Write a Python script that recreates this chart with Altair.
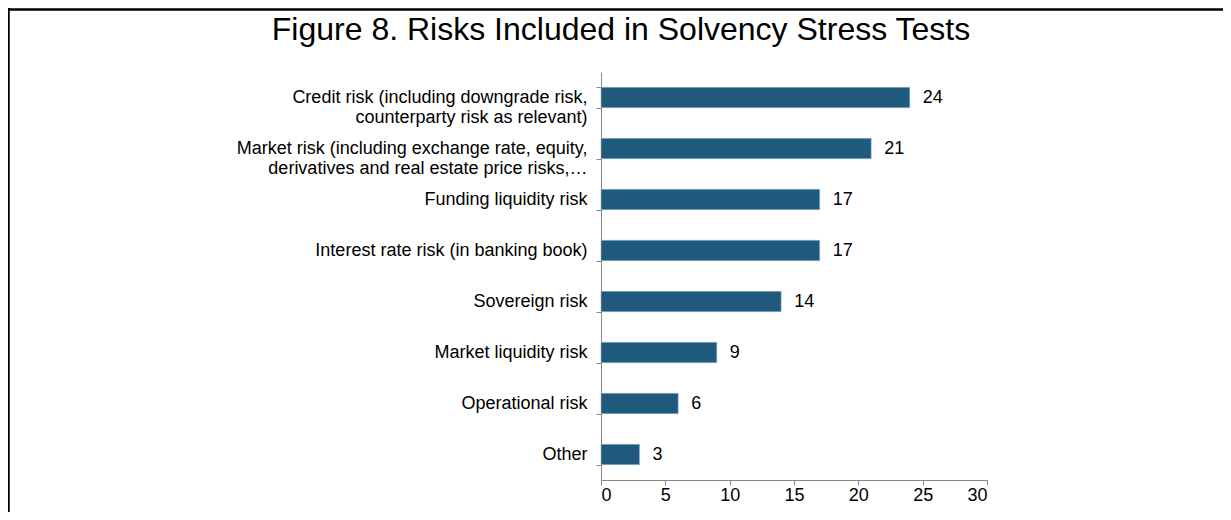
import altair as alt
import pandas as pd

NB = "\u00a0"

categories = [
    "Credit risk (including downgrade risk,|counterparty risk as relevant)" + NB * 6,
    "Market risk (including exchange rate, equity,|derivatives and real estate price risks,\u2026" + NB * 3,
    "Funding liquidity risk",
    "Interest rate risk (in banking book)",
    "Sovereign risk",
    "Market liquidity risk",
    "Operational risk",
    "Other",
]
values = [24, 21, 17, 17, 14, 9, 6, 3]
x_ticks = [0, 5, 10, 15, 20, 25, 30]
title_text = "Figure 8. Risks Included in Solvency Stress Tests"

df = pd.DataFrame({"cat": categories, "val": values})

BAR = "#1F5A7D"
AXIS = "#868686"
FONT = "Liberation Sans"

PL, PT, PR, PB = 593, 64, 236, 32
W, H = 386, 408

base = alt.Chart(df)

bars = base.mark_bar(color=BAR, stroke="#9FB9CC", strokeWidth=0.6).encode(
    y=alt.Y(
        "cat:N",
        sort=None,
        title=None,
        scale=alt.Scale(paddingInner=0.6, paddingOuter=0.3),
        axis=alt.Axis(
            tickBand="extent",
            labelExpr="split(datum.label, '|')",
            labelAlign="right",
            labelPadding=9,
            labelLimit=500,
            labelFontSize=18,
            labelLineHeight=20,
            labelFont=FONT,
            labelColor="#000000",
            tickSize=5,
            tickColor=AXIS,
            domainColor=AXIS,
            grid=False,
        ),
    ),
    x=alt.X(
        "val:Q",
        title=None,
        scale=alt.Scale(domain=[0, 30], nice=False),
        axis=alt.Axis(
            values=x_ticks,
            labelFontSize=18,
            labelFont=FONT,
            labelColor="#000000",
            labelPadding=1,
            tickSize=5,
            tickColor=AXIS,
            domainColor=AXIS,
            grid=False,
        ),
    ),
)

labels = base.mark_text(
    align="left", baseline="middle", dx=13, fontSize=18, font=FONT, color="#000000"
).encode(
    y=alt.Y("cat:N", sort=None),
    x="val:Q",
    text="val:Q",
)

frame = alt.Chart(alt.Data(values=[{"t": title_text}]))
title = frame.mark_text(
    align="center", baseline="alphabetic", fontSize=32, font=FONT, color="#000000"
).encode(x=alt.value(20), y=alt.value(-32.5), text="t:N")

top_border = frame.mark_rule(color="#000000", strokeWidth=2.5, clip=False).encode(
    x=alt.value(-PL), x2=alt.value(W + PR), y=alt.value(-PT + 1.5)
)
left_border = frame.mark_rule(color="#000000", strokeWidth=2.5, clip=False).encode(
    x=alt.value(-PL + 0.5), y=alt.value(-PT), y2=alt.value(H + PB)
)

chart = (
    alt.layer(bars, labels, title, top_border, left_border)
    .properties(
        width=W,
        height=H,
        padding={"left": PL, "top": PT, "right": PR, "bottom": PB},
        autosize=alt.AutoSizeParams(type="none"),
    )
    .configure_view(stroke=None)
)

chart.save("out.html", embed_options={"renderer": "svg", "actions": False})
